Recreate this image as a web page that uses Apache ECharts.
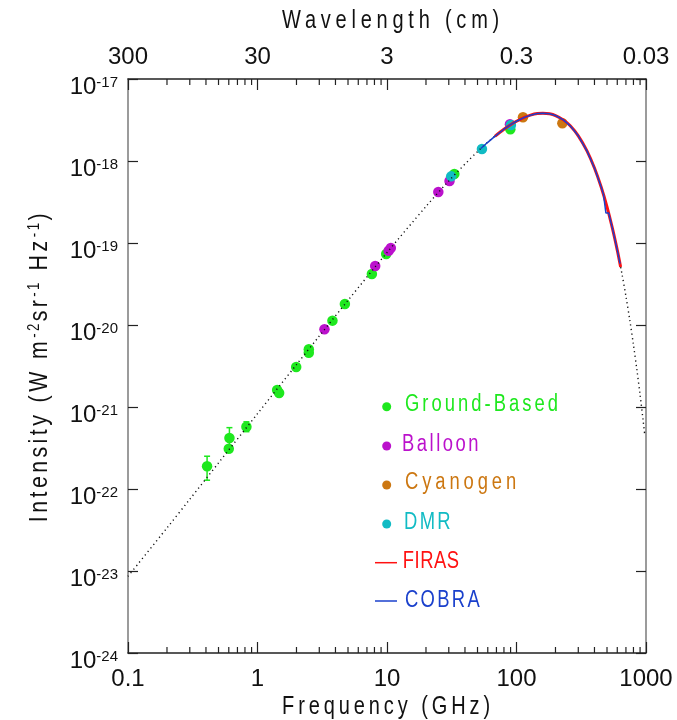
<!DOCTYPE html>
<html>
<head>
<meta charset="utf-8">
<script src="https://cdn.jsdelivr.net/npm/echarts@6/dist/echarts.min.js"></script>
<style>html,body{margin:0;padding:0;background:#fff}#c{width:677px;height:720px}</style>
</head>
<body>
<div id="c"></div>
<script>
// ---------------- data ----------------
const freqTickLabels = ['0.1', '1', '10', '100', '1000'];
const wavelengthTickLabels = ['300', '30', '3', '0.3', '0.03'];

const groundFreq = [0.408, 0.607, 0.600, 0.821, 1.418, 1.469, 1.99, 2.49, 2.49, 3.79, 4.73, 7.64, 9.86, 33.1, 89.6];
const groundIntensity = [1.89e-22, 4.19e-22, 3.1e-22, 5.75e-22, 1.61e-21, 1.48e-21, 3.08e-21, 5.06e-21, 4.59e-21, 1.13e-20, 1.80e-20, 4.19e-20, 7.34e-20, 6.93e-19, 2.44e-18];
const groundErrFreq = [0.408, 0.607, 0.821];
const groundErrLow = [1.28e-22, 3.2e-22, 5.0e-22];
const groundErrHigh = [2.51e-22, 5.6e-22, 6.6e-22];

const balloonFreq = [3.29, 8.11, 10.3, 10.7, 24.9, 30.4, 89.0];
const balloonIntensity = [8.87e-21, 5.25e-20, 8.05e-20, 8.69e-20, 4.19e-19, 5.70e-19, 2.80e-18];

const cyanogenFreq = [112.2, 226];
const cyanogenIntensity = [3.41e-18, 2.88e-18];

const dmrFreq = [31.3, 54.1, 90.5];
const dmrIntensity = [6.50e-19, 1.40e-18, 2.75e-18];

const firasFreq = [68, 80, 90, 100, 115, 130, 145, 160, 180, 200, 230, 260, 300, 350, 400, 450, 500, 550, 600, 637];
const firasIntensity = [2.00e-18, 2.44e-18, 2.77e-18, 3.055e-18, 3.40e-18, 3.647e-18, 3.787e-18, 3.832e-18, 3.765e-18, 3.585e-18, 3.175e-18, 2.685e-18, 2.028e-18, 1.33e-18, 8.23e-19, 4.85e-19, 2.76e-19, 1.52e-19, 8.2e-20, 5.1e-20];

const cobraFreq = [53, 60, 68, 80, 90, 100, 115, 130, 145, 160, 180, 200, 230, 260, 300, 350, 400, 450, 470, 490, 515, 550, 600, 630];
const cobraIntensity = [1.42e-18, 1.69e-18, 2.00e-18, 2.44e-18, 2.77e-18, 3.055e-18, 3.40e-18, 3.647e-18, 3.787e-18, 3.832e-18, 3.765e-18, 3.585e-18, 3.175e-18, 2.685e-18, 2.028e-18, 1.33e-18, 8.23e-19, 4.85e-19, 3.89e-19, 2.32e-19, 2.32e-19, 1.52e-19, 8.2e-20, 5.6e-20];

const curveFreq = [0.1, 0.2, 0.3, 0.5, 1, 2, 3, 5, 10, 20, 30, 50, 70, 100, 130, 160, 200, 250, 300, 350, 400, 450, 500, 550, 600, 650, 700, 750, 800, 850, 900, 950, 975];
const curveIntensity = [8.6e-24, 3.35e-23, 7.5e-23, 2.08e-22, 8.29e-22, 3.29e-21, 7.33e-21, 2.0e-20, 7.65e-20, 2.79e-19, 5.71e-19, 1.303e-18, 2.078e-18, 3.055e-18, 3.647e-18, 3.832e-18, 3.585e-18, 2.852e-18, 2.028e-18, 1.33e-18, 8.23e-19, 4.85e-19, 2.76e-19, 1.52e-19, 8.2e-20, 4.32e-20, 2.24e-20, 1.14e-20, 5.74e-21, 2.86e-21, 1.41e-21, 6.86e-22, 4.77e-22];

// ---------------- text spacing (wide letter spacing like the reference) ----------------
const SX = 0.8;   // horizontal squeeze for the condensed-looking titles and legend
const SXY = 0.82; // squeeze for the vertical axis title
const TEXT_FIT = {
  'Wavelength (cm)': {w: 222 / SX}, 'Frequency (GHz)': {w: 212 / SX},
  'Ground-Based': {w: 156 / SX}, 'Balloon': {w: 79 / SX}, 'Cyanogen': {w: 115 / SX}, 'DMR': {w: 49 / SX},
  'FIRAS': {w: 57 / SX}, 'COBRA': {w: 77 / SX},
  'Intensity (W m': {ls: 4.2}, 'sr': {ls: 4}, ' Hz': {ls: 4.5}, ')': {ls: 2}, '-2': {ls: 3}, '-1': {ls: 3}
};
(function () {
  const P = CanvasRenderingContext2D.prototype;
  const oM = P.measureText, oF = P.fillText, oS = P.strokeText;
  function sp(ctx, t) {
    const f = TEXT_FIT[t];
    if (!f || !Object.prototype.hasOwnProperty.call(TEXT_FIT, t)) return 0;
    if (f.ls != null) return f.ls;
    ctx.letterSpacing = '0px';
    const w = oM.call(ctx, t).width;
    return (f.w - w) / t.length;
  }
  function wrap(orig) {
    return function () {
      this.save();
      const ls = sp(this, String(arguments[0]));
      this.letterSpacing = ls + 'px';
      const r = orig.apply(this, arguments);
      this.restore();
      return r;
    };
  }
  P.measureText = wrap(oM); P.fillText = wrap(oF); P.strokeText = wrap(oS);
})();

// ---------------- chart ----------------
// ECharts' log scale misbehaves with extents near 1e-24, so intensities are
// plotted in units of 1e-24 W m^-2 sr^-1 Hz^-1 and the labels restore the exponent.
const Y_UNIT_EXP = -24;
const toY = v => v / Math.pow(10, Y_UNIT_EXP);
const C = {ground: '#1ee81e', balloon: '#bb11cc', cyanogen: '#cc7711', dmr: '#11bbc4', firas: '#ff1111', cobra: '#1a40cc'};
const SANS = "'Liberation Sans', Arial, sans-serif";
const pairs = (xs, ys) => xs.map((x, i) => [x, toY(ys[i])]);
const YMIN = toY(1e-24), YMAX = toY(1e-17);

const minorTicks = [];
[0.1, 1, 10, 100].forEach(d => { for (let k = 2; k <= 9; k++) minorTicks.push([d * k, 1000]); });

const chart = echarts.init(document.getElementById('c'), null, {renderer: 'canvas'});
const axisLineX = {show: true, lineStyle: {color: '#222', width: 1.5}};
const axisLineY = {show: true, lineStyle: {color: '#7a7a7a', width: 1.5}};
const tickStyle = {show: true, inside: true, length: 11, lineStyle: {color: '#222', width: 1.2}};

chart.setOption({
  animation: false,
  backgroundColor: '#fff',
  grid: {left: 128, right: 31, top: 79, bottom: 67, containLabel: false},
  xAxis: [{
    type: 'log', logBase: 10, min: 0.1, max: 1000, position: 'bottom', splitNumber: 4,
    axisLine: axisLineX, axisTick: tickStyle, splitLine: {show: false},
    axisLabel: {margin: 14, fontSize: 24, fontFamily: SANS, color: '#111', showMinLabel: true, showMaxLabel: true,
      formatter: v => freqTickLabels[Math.round(Math.log10(v)) + 1]}
  }, {
    type: 'log', logBase: 10, min: 0.1, max: 1000, position: 'top', splitNumber: 4,
    axisLine: axisLineX, axisTick: tickStyle, splitLine: {show: false},
    axisLabel: {margin: 10, fontSize: 24, fontFamily: SANS, color: '#111', showMinLabel: true, showMaxLabel: true,
      formatter: v => wavelengthTickLabels[Math.round(Math.log10(v)) + 1]}
  }],
  yAxis: [{
    type: 'log', logBase: 10, min: YMIN, max: YMAX, position: 'left', splitNumber: 7,
    axisLine: axisLineY, axisTick: Object.assign({}, tickStyle, {length: 10}), splitLine: {show: false},
    axisLabel: {margin: 10, showMinLabel: true, showMaxLabel: true, padding: [17, 0, 0, 0],
      formatter: v => '{b|10}{s|' + (Math.round(Math.log10(v)) + Y_UNIT_EXP) + '}',
      rich: {
        b: {fontSize: 24, fontFamily: SANS, color: '#111', lineHeight: 24, padding: [8, 0, 0, 0], verticalAlign: 'bottom'},
        s: {fontSize: 15, fontFamily: SANS, color: '#111', lineHeight: 15, verticalAlign: 'top'}
      }}
  }, {
    type: 'log', logBase: 10, min: YMIN, max: YMAX, position: 'right', splitNumber: 7,
    axisLine: axisLineY, axisTick: Object.assign({}, tickStyle, {length: 10}), splitLine: {show: false},
    axisLabel: {show: false}
  }],
  series: [
    {
      name: 'minor ticks', type: 'custom', xAxisIndex: 0, yAxisIndex: 0, silent: true, clip: false, z: 1,
      data: minorTicks,
      renderItem: (params, api) => {
        const v = api.value(0);
        const pb = api.coord([v, YMIN]), pt = api.coord([v, YMAX]);
        const st = {stroke: '#222', lineWidth: 1.2};
        return {type: 'group', children: [
          {type: 'line', shape: {x1: pb[0], y1: pb[1], x2: pb[0], y2: pb[1] - 6}, style: st},
          {type: 'line', shape: {x1: pt[0], y1: pt[1], x2: pt[0], y2: pt[1] + 6}, style: st}
        ]};
      }
    },
    {
      name: 'Ground-Based errors', type: 'custom', xAxisIndex: 0, yAxisIndex: 0, silent: true, z: 2,
      data: groundErrFreq.map((f, i) => [f, toY(groundErrLow[i]), toY(groundErrHigh[i])]),
      renderItem: (params, api) => {
        const lo = api.coord([api.value(0), api.value(1)]);
        const hi = api.coord([api.value(0), api.value(2)]);
        const st = {stroke: C.ground, lineWidth: 1.5};
        return {type: 'group', children: [
          {type: 'line', shape: {x1: lo[0], y1: lo[1], x2: hi[0], y2: hi[1]}, style: st},
          {type: 'line', shape: {x1: lo[0] - 3, y1: lo[1], x2: lo[0] + 3, y2: lo[1]}, style: st},
          {type: 'line', shape: {x1: hi[0] - 3, y1: hi[1], x2: hi[0] + 3, y2: hi[1]}, style: st}
        ]};
      }
    },
    {name: 'Ground-Based', type: 'scatter', data: pairs(groundFreq, groundIntensity), symbolSize: 10.5, itemStyle: {color: C.ground, opacity: 1}, z: 3},
    {name: 'Balloon', type: 'scatter', data: pairs(balloonFreq, balloonIntensity), symbolSize: 10.5, itemStyle: {color: C.balloon, opacity: 1}, z: 3},
    {name: 'Cyanogen', type: 'scatter', data: pairs(cyanogenFreq, cyanogenIntensity), symbolSize: 10.5, itemStyle: {color: C.cyanogen, opacity: 1}, z: 3},
    {name: 'DMR', type: 'scatter', data: pairs(dmrFreq, dmrIntensity), symbolSize: 10.5, itemStyle: {color: C.dmr, opacity: 1}, z: 3},
    {name: 'Blackbody', type: 'line', data: pairs(curveFreq, curveIntensity), symbol: 'none', smooth: 0.3, z: 4,
      lineStyle: {color: '#111', width: 1.4, type: [1.2, 3.3]}},
    {name: 'FIRAS', type: 'line', data: pairs(firasFreq, firasIntensity), symbol: 'none', smooth: 0.3, z: 5,
      lineStyle: {color: C.firas, width: 3}},
    {name: 'COBRA', type: 'line', data: pairs(cobraFreq, cobraIntensity), symbol: 'none', smooth: false, z: 6,
      lineStyle: {color: C.cobra, width: 1.5}}
  ],
  graphic: [
    {type: 'text', x: 393, y: 21, scaleX: SX, style: {text: 'Wavelength (cm)', font: '25px ' + SANS, fill: '#111', align: 'center', verticalAlign: 'middle'}},
    {type: 'text', x: 388, y: 707, scaleX: SX, style: {text: 'Frequency (GHz)', font: '25px ' + SANS, fill: '#111', align: 'center', verticalAlign: 'middle'}},
    {type: 'text', x: 40, y: 367, rotation: Math.PI / 2, scaleX: SXY, style: {
      text: '{a|Intensity (W m}{s|-2}{a|sr}{s|-1}{a| Hz}{s|-1}{a|)}', align: 'center', verticalAlign: 'middle',
      rich: {
        a: {fontSize: 26, fontFamily: SANS, fill: '#111', lineHeight: 26, padding: [8, 0, 0, 0], verticalAlign: 'bottom'},
        s: {fontSize: 16, fontFamily: SANS, fill: '#111', lineHeight: 16, verticalAlign: 'top'}
      }}},
    // legend
    {type: 'circle', shape: {cx: 386.7, cy: 406.7, r: 4.5}, style: {fill: C.ground}},
    {type: 'text', x: 405, y: 405, scaleX: SX, style: {text: 'Ground-Based', font: '23px ' + SANS, fill: C.ground, align: 'left', verticalAlign: 'middle'}},
    {type: 'circle', shape: {cx: 386.7, cy: 446, r: 4.5}, style: {fill: C.balloon}},
    {type: 'text', x: 402, y: 445, scaleX: SX, style: {text: 'Balloon', font: '23px ' + SANS, fill: C.balloon, align: 'left', verticalAlign: 'middle'}},
    {type: 'circle', shape: {cx: 386.7, cy: 485, r: 4.5}, style: {fill: C.cyanogen}},
    {type: 'text', x: 405, y: 483, scaleX: SX, style: {text: 'Cyanogen', font: '23px ' + SANS, fill: C.cyanogen, align: 'left', verticalAlign: 'middle'}},
    {type: 'circle', shape: {cx: 386.7, cy: 524, r: 4.5}, style: {fill: C.dmr}},
    {type: 'text', x: 404, y: 523, scaleX: SX, style: {text: 'DMR', font: '23px ' + SANS, fill: C.dmr, align: 'left', verticalAlign: 'middle'}},
    {type: 'line', shape: {x1: 375, y1: 562.7, x2: 397, y2: 562.7}, style: {stroke: C.firas, lineWidth: 1.5}},
    {type: 'text', x: 402.7, y: 562, scaleX: SX, style: {text: 'FIRAS', font: '23px ' + SANS, fill: C.firas, align: 'left', verticalAlign: 'middle'}},
    {type: 'line', shape: {x1: 375, y1: 601, x2: 397, y2: 601}, style: {stroke: C.cobra, lineWidth: 1.5}},
    {type: 'text', x: 405, y: 601, scaleX: SX, style: {text: 'COBRA', font: '23px ' + SANS, fill: C.cobra, align: 'left', verticalAlign: 'middle'}}
  ]
});
</script>
</body>
</html>
